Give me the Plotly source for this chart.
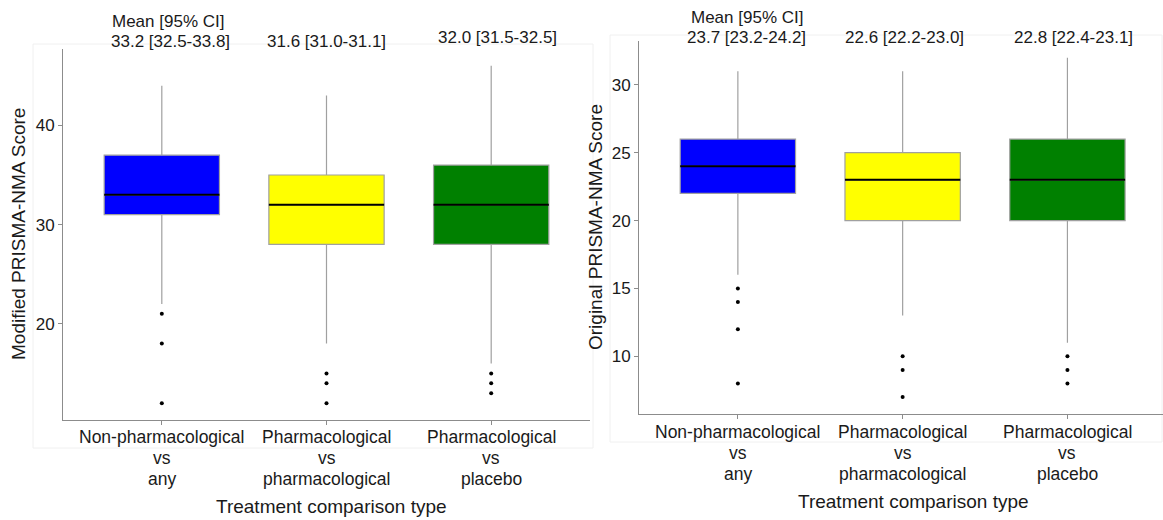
import plotly.graph_objects as go

W, H = 1163, 520

categories = [["Non-pharmacological", "vs", "any"],
              ["Pharmacological", "vs", "pharmacological"],
              ["Pharmacological", "vs", "placebo"]]
colors = ["#0000FF", "#FFFF00", "#008000"]

# Modified PRISMA-NMA score (left panel)
mod_q1 = [31, 28, 28]
mod_median = [33, 32, 32]
mod_q3 = [37, 35, 36]
mod_low = [22, 18, 16]
mod_high = [44, 43, 46]
mod_outliers = [[21, 18, 12], [15, 14, 12], [15, 14, 13]]
mod_ci = ["33.2 [32.5-33.8]", "31.6 [31.0-31.1]", "32.0 [31.5-32.5]"]

# Original PRISMA-NMA score (right panel)
orig_q1 = [22, 20, 20]
orig_median = [24, 23, 23]
orig_q3 = [26, 25, 26]
orig_low = [16, 13, 11]
orig_high = [31, 31, 32]
orig_outliers = [[15, 14, 12, 8], [10, 9, 7], [10, 9, 8]]
orig_ci = ["23.7 [23.2-24.2]", "22.6 [22.2-23.0]", "22.8 [22.4-23.1]"]

FONT = "Liberation Sans, Arial, sans-serif"
TXT = "#1a1a1a"
GRAY = "#8c8c8c"
BW = 0.7

fig = go.Figure()


def add_panel(xa, ya, q1, med, q3, low, high, outl):
    for i in range(3):
        fig.add_trace(go.Box(
            x=[i], q1=[q1[i]], median=[med[i]], q3=[q3[i]],
            lowerfence=[low[i]], upperfence=[high[i]],
            width=BW, fillcolor=colors[i],
            line=dict(color="#a0a0a0", width=1.2), whiskerwidth=0,
            boxpoints=False, showlegend=False, hoverinfo="skip",
            xaxis=xa, yaxis=ya))
        fig.add_trace(go.Scatter(
            x=[i - BW / 2, i + BW / 2], y=[med[i], med[i]], mode="lines",
            line=dict(color="black", width=2), showlegend=False,
            hoverinfo="skip", xaxis=xa, yaxis=ya))
        fig.add_trace(go.Scatter(
            x=[i] * len(outl[i]), y=outl[i], mode="markers",
            marker=dict(color="black", size=4), showlegend=False,
            hoverinfo="skip", xaxis=xa, yaxis=ya))


add_panel("x", "y", mod_q1, mod_median, mod_q3, mod_low, mod_high, mod_outliers)
add_panel("x2", "y2", orig_q1, orig_median, orig_q3, orig_low, orig_high, orig_outliers)

def px(x):
    return x / W

def py(y):
    return 1 - y / H

xcommon = dict(tickmode="array", tickvals=[0, 1, 2], ticktext=["", "", ""],
               showline=True, linecolor=GRAY, linewidth=1, ticks="outside",
               ticklen=4, tickcolor=GRAY, showgrid=False, zeroline=False)
ycommon = dict(showline=True, linecolor=GRAY, linewidth=1, ticks="outside",
               ticklen=4, tickcolor=GRAY, showgrid=False, zeroline=False,
               tickfont=dict(family=FONT, size=17, color=TXT))

fig.update_layout(
    width=W, height=H, margin=dict(l=0, r=0, t=0, b=0),
    paper_bgcolor="white", plot_bgcolor="white", boxmode="overlay",
    xaxis=dict(domain=[px(63), px(590)], range=[-0.6, 2.6], anchor="y", **xcommon),
    yaxis=dict(domain=[py(420), py(49)], range=[10.3, 47.7], anchor="x",
               tickvals=[20, 30, 40], **ycommon),
    xaxis2=dict(domain=[px(639), 1.0], range=[-0.6, 2.58], anchor="y2", **xcommon),
    yaxis2=dict(domain=[py(414), py(40.7)], range=[5.75, 33.25], anchor="x2",
                tickvals=[10, 15, 20, 25, 30], **ycommon),
)

ann = []

def text(x, y, s, size=17, angle=0, xref="paper"):
    ann.append(dict(x=x, y=y, xref=xref, yref="paper", text=s, showarrow=False,
                    xanchor="center", yanchor="middle", textangle=angle,
                    font=dict(family=FONT, size=size, color=TXT)))

# Left panel header
text(0.035, py(21.7), "Mean [95% CI]", xref="x")
text(0.05, py(41.7), mod_ci[0], xref="x")
text(1.0, py(41.7), mod_ci[1], xref="x")
text(2.04, py(37.7), mod_ci[2], xref="x")
# Right panel header
text(0.055, py(17.3), "Mean [95% CI]", xref="x2")
text(0.055, py(37.3), orig_ci[0], xref="x2")
text(1.01, py(37.3), orig_ci[1], xref="x2")
text(2.035, py(37.3), orig_ci[2], xref="x2")

# Category labels (three lines each, tight line spacing)
left_lines = [437, 458, 479]
right_lines = [432, 453, 474]
for i, lines in enumerate(categories):
    for ln, yy in zip(lines, left_lines):
        text(i, py(yy), ln, size=17.5, xref="x")
    for ln, yy in zip(lines, right_lines):
        text(i, py(yy), ln, size=17.5, xref="x2")

# Axis titles
text(px(331), py(506), "Treatment comparison type", size=19)
text(px(913), py(501), "Treatment comparison type", size=19)
text(px(19), py(234), "Modified PRISMA-NMA Score", size=19, angle=-90)
text(px(595), py(227), "Original PRISMA-NMA Score", size=19, angle=-90)

fig.update_layout(annotations=ann)

# faint panel borders
fig.add_shape(type="rect", xref="paper", yref="paper", x0=px(33), x1=px(593),
              y0=py(448), y1=py(44), line=dict(color="#f0f0f0", width=1), layer="below")
fig.add_shape(type="rect", xref="paper", yref="paper", x0=px(610), x1=px(1162),
              y0=py(442), y1=py(35), line=dict(color="#f0f0f0", width=1), layer="below")

fig.write_html("out.html")
